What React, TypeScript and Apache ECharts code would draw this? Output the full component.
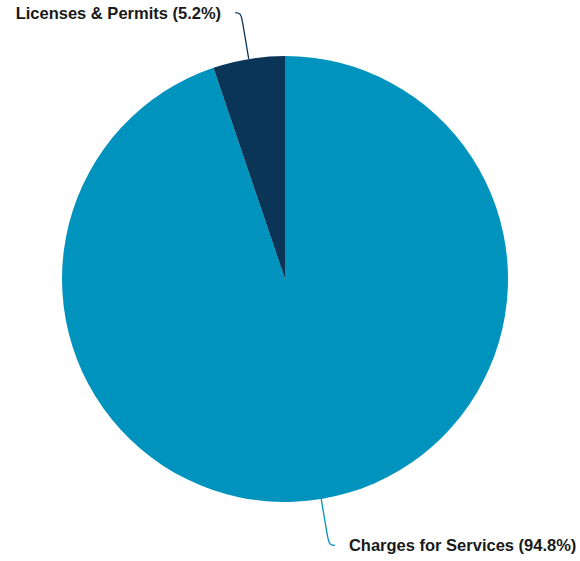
import React, { useEffect, useRef } from "react";
import * as echarts from "echarts";

const categories = ["Charges for Services", "Licenses & Permits"];
const values = [94.8, 5.2];
const colors = ["#0093bd", "#0a3556"];

export default function App() {
  const ref = useRef<HTMLDivElement>(null);
  useEffect(() => {
    document.body.style.margin = "0";
    const chart = echarts.init(ref.current!, null, { renderer: "svg" });
    chart.setOption({
      animation: false,
      backgroundColor: "#ffffff",
      series: [
        {
          type: "pie",
          center: [285, 279],
          radius: [0, 223],
          startAngle: 90,
          clockwise: true,
          avoidLabelOverlap: false,
          data: categories.map((c, i) => ({
            name: c,
            value: values[i],
            itemStyle: { color: colors[i] },
            labelLine: { lineStyle: { color: colors[i] } },
          })),
          label: {
            show: true,
            formatter: (p: any) => `${p.name} (${p.value.toFixed(1)}%)`,
            fontFamily: "Liberation Sans, Arial, sans-serif",
            fontWeight: "bold",
            fontSize: 16.5,
            color: "#1a1a1a",
            distanceToLabelLine: 14,
          },
          labelLine: {
            show: true,
            length: 47,
            length2: 6,
            smooth: 0.5,
            lineStyle: { width: 1.3 },
          },
          emphasis: { disabled: true },
        },
      ],
    });
    return () => chart.dispose();
  }, []);
  return <div ref={ref} style={{ width: 580, height: 561 }} />;
}
